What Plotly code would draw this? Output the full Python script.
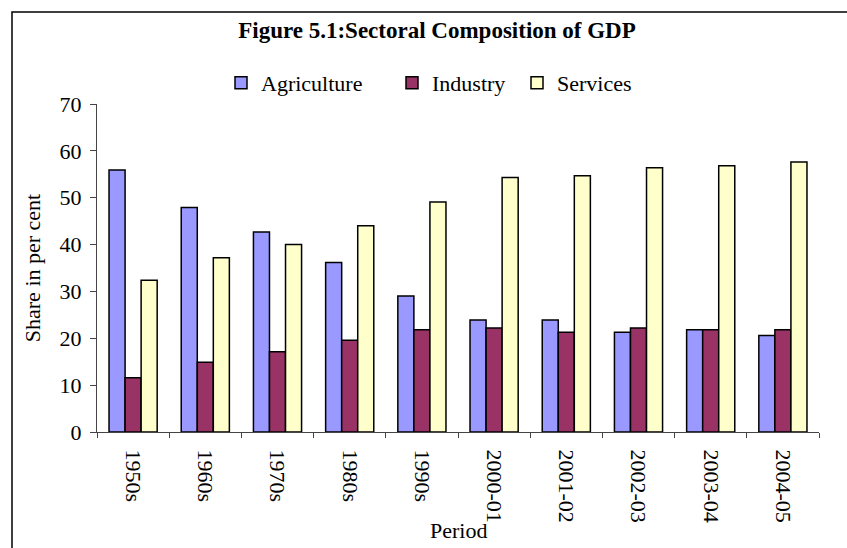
import plotly.graph_objects as go

# Share of GDP by sector (per cent)
periods = ["1950s", "1960s", "1970s", "1980s", "1990s",
           "2000-01", "2001-02", "2002-03", "2003-04", "2004-05"]
agriculture = [55.9, 47.9, 42.7, 36.2, 29.0, 23.9, 23.9, 21.3, 21.8, 20.6]
industry = [11.6, 14.9, 17.1, 19.6, 21.8, 22.2, 21.3, 22.2, 21.8, 21.8]
services = [32.4, 37.2, 40.0, 44.0, 49.1, 54.3, 54.7, 56.4, 56.8, 57.6]

y_ticks = [0, 10, 20, 30, 40, 50, 60, 70]

FONT = "Liberation Serif"

W, H = 847, 548
L, R, T, B = 97, 28, 104, 116
PW, PH = W - L - R, H - T - B


def px_x(x):
    return (x - L) / PW


def px_y(y):
    return (H - B - y) / PH


series = [
    ("Agriculture", agriculture, "#9999FF", "legend", 221),
    ("Industry", industry, "#993366", "legend2", 392),
    ("Services", services, "#FFFFCC", "legend3", 517),
]

fig = go.Figure()
for name, vals, color, leg, _ in series:
    fig.add_trace(go.Bar(
        name=name, x=periods, y=vals, legend=leg,
        marker=dict(color=color, line=dict(color="black", width=1.5)),
    ))

legend_style = dict(
    orientation="h", yanchor="middle", xanchor="left",
    font=dict(family=FONT, size=22, color="black"),
    bgcolor="rgba(0,0,0,0)", borderwidth=0,
    itemclick=False, itemdoubleclick=False,
)
layout_legends = {}
for name, vals, color, leg, xpos in series:
    layout_legends[leg] = dict(legend_style, x=px_x(xpos), y=px_y(83))

fig.update_layout(
    width=W, height=H,
    margin=dict(l=L, r=R, t=T, b=B),
    paper_bgcolor="white", plot_bgcolor="white",
    barmode="group", bargap=1 / 3, bargroupgap=0,
    showlegend=True,
    font=dict(family=FONT, size=22, color="black"),
    title=dict(
        text="<b>Figure 5.1:Sectoral Composition of GDP</b>",
        font=dict(family=FONT, size=23, color="black"),
        x=px_x(437), xref="paper", xanchor="center",
        y=1 - 30 / H, yref="container", yanchor="middle",
    ),
    xaxis=dict(
        type="category", tickangle=90,
        showline=True, linecolor="#444", linewidth=1,
        ticks="outside", ticklen=5, tickcolor="#444", tickson="boundaries",
        tickfont=dict(family=FONT, size=22, color="black"),
        ticklabelstandoff=12,
        showgrid=False, zeroline=False,
    ),
    yaxis=dict(
        range=[0, 70], tickvals=y_ticks,
        showline=True, linecolor="#444", linewidth=1,
        ticks="outside", ticklen=6, tickcolor="#444",
        tickfont=dict(family=FONT, size=22, color="black"),
        ticklabelstandoff=4,
        title=dict(text="Share in per cent", font=dict(family=FONT, size=22), standoff=12),
        showgrid=False, zeroline=False,
    ),
    annotations=[dict(
        text="Period", xref="paper", yref="paper",
        x=px_x(458), y=px_y(530), xanchor="center", yanchor="middle",
        showarrow=False, font=dict(family=FONT, size=22, color="black"),
    )],
    shapes=[dict(
        type="rect", xref="paper", yref="paper",
        x0=px_x(12), x1=px_x(870), y0=px_y(12), y1=px_y(580),
        line=dict(color="black", width=1.5), fillcolor="rgba(0,0,0,0)",
        layer="below",
    )],
    **layout_legends,
)

fig.write_html("out.html")
